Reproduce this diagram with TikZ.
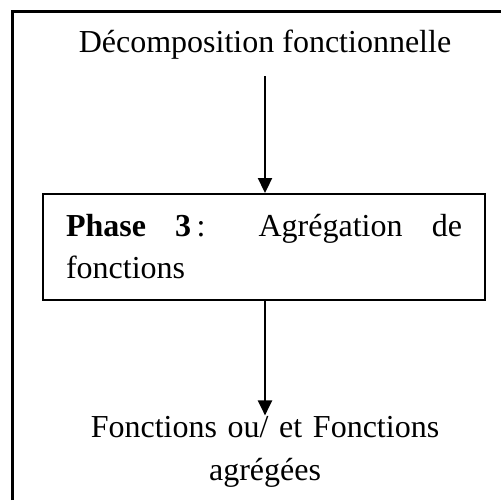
\documentclass[tikz,border=0pt]{standalone}
\usepackage{fontspec}
\setmainfont{Liberation Serif}
\usepackage{tikz}
\usetikzlibrary{arrows.meta}

\begin{document}
\begin{tikzpicture}[x=0.5pt,y=-0.5pt,>={Triangle[length=7.5pt,width=7pt]},
    txt/.style={font=\fontsize{16}{21.5}\selectfont,inner sep=0pt},
    phasebox/.style={draw,line width=1pt,font=\fontsize{16}{21}\selectfont,align=justify,
                text width=198pt,inner xsep=11.5pt,minimum height=53pt}]
    \useasboundingbox (0,0) rectangle (501,500);
    \draw[line width=1.5pt] (12,500) -- (12,11) -- (501,11);
    \node[txt,anchor=base] (decomp) at (265,52) {Décomposition fonctionnelle};
    \node[phasebox] (phase) at (264,247) {\textbf{Phase 3}\,: Agrégation de\linebreak fonctions};
    \node[txt,anchor=base,align=center,text width=200pt] (sortie) at (265,437) {Fonctions ou/ et Fonctions\\agrégées};
    \draw[->,line width=1.1pt] ([yshift=-8.5pt]decomp.south) -- (decomp.south |- phase.north);
    \draw[->,line width=1.1pt] (decomp.south |- phase.south) -- (decomp.south |- sortie.north);
  \end{tikzpicture}
\end{document}
